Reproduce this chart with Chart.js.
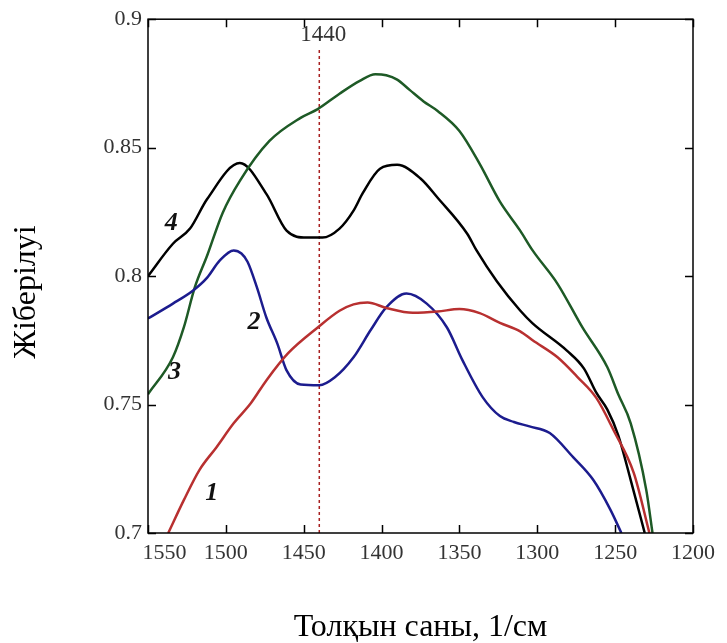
<!DOCTYPE html>
<html><head><meta charset="utf-8">
<script src="https://cdn.jsdelivr.net/npm/chart.js@4/dist/chart.umd.min.js"></script>
<style>html,body{margin:0;padding:0;background:#fff}#wrap{width:727px;height:643px}</style>
</head><body><div id="wrap"><canvas id="c" width="727" height="643"></canvas></div>
<script>
// ---- data (wavenumber, 1/cm ; transmission) ----
const wn1 = [1537,1527,1517,1506,1495,1484,1474,1460,1441,1427,1418,1409,1397,1380,1364,1350,1337,1324,1311,1303,1287,1274,1262,1251,1238,1228];
const tr1 = [0.700,0.7128,0.7245,0.7334,0.7427,0.7505,0.7594,0.770,0.780,0.7865,0.7890,0.7897,0.7876,0.7857,0.7862,0.7872,0.7856,0.7818,0.7785,0.775,0.7684,0.7606,0.7525,0.740,0.7233,0.700];

const wn2 = [1550,1534,1521,1512,1504,1495,1490,1486,1480,1474,1467,1461,1452,1440,1430,1418,1407,1397,1384,1371,1358,1348,1335,1324,1315,1305,1292,1277,1264,1253,1246];
const tr2 = [0.7835,0.7893,0.7944,0.7994,0.806,0.810,0.8088,0.8055,0.7955,0.7839,0.7738,0.7633,0.7578,0.7575,0.7606,0.7684,0.779,0.7878,0.7932,0.7893,0.780,0.7672,0.7528,0.7455,0.7432,0.7415,0.7389,0.7295,0.7206,0.709,0.700];

const wn3 = [1550,1534,1527,1520,1512,1502,1491,1472,1452,1441,1427,1414,1404,1397,1390,1382,1373,1364,1350,1337,1324,1311,1303,1287,1271,1255,1248,1240,1230,1226];
const tr3 = [0.754,0.7684,0.780,0.7955,0.808,0.8247,0.8371,0.8526,0.8616,0.865,0.871,0.876,0.8786,0.8782,0.8765,0.8725,0.868,0.8643,0.8565,0.8437,0.829,0.8177,0.810,0.797,0.780,0.7645,0.754,0.7427,0.7167,0.700];

const wn4 = [1550,1534,1523,1512,1491,1474,1461,1448,1438,1427,1418,1412,1401,1390,1375,1364,1345,1339,1326,1311,1303,1281,1270,1262,1255,1248,1240,1231];
const tr4 = [0.800,0.8126,0.8185,0.830,0.844,0.832,0.8177,0.815,0.815,0.8185,0.8255,0.8324,0.8418,0.8433,0.838,0.8305,0.8165,0.810,0.798,0.7866,0.7816,0.771,0.764,0.7545,0.748,0.738,0.7206,0.700];

const markerWn = 1440;
const markerLabel = '1440';
const xTicks = [1550,1500,1450,1400,1350,1300,1250,1200];
const yTicks = [0.7,0.75,0.8,0.85,0.9];
const curveNames = ['1','2','3','4'];
const curveNameAt = [[1509,0.7156],[1482,0.782],[1533,0.7625],[1535,0.8204]];

const xTitle = 'Толқын саны, 1/см';
const yTitle = 'Жіберілуі';

const colors = ['#b83030','#1c1c8e','#1e5a26','#000000'];
const SERIF = '"Liberation Serif","Times New Roman",serif';

function pts(xs, ys){ return xs.map((x,i)=>({x:x,y:ys[i]})); }

const decor = {
  id:'decor',
  afterDatasetsDraw(chart){
    const {ctx, chartArea:a, scales:{x,y}} = chart;
    ctx.save();
    ctx.strokeStyle = '#000';
    ctx.lineWidth = 1.5;
    ctx.strokeRect(a.left, a.top, a.right-a.left, a.bottom-a.top);
    const L = 8;
    ctx.beginPath();
    xTicks.forEach(v=>{
      const px = Math.round(x.getPixelForValue(v))+0.5;
      ctx.moveTo(px, a.top); ctx.lineTo(px, a.top+L);
      ctx.moveTo(px, a.bottom); ctx.lineTo(px, a.bottom-L);
    });
    yTicks.forEach(v=>{
      const py = Math.round(y.getPixelForValue(v))+0.5;
      ctx.moveTo(a.left, py); ctx.lineTo(a.left+L, py);
      ctx.moveTo(a.right, py); ctx.lineTo(a.right-L, py);
    });
    ctx.stroke();
    // curve numbers
    ctx.font = 'italic bold 26px ' + SERIF;
    ctx.fillStyle = '#111';
    ctx.textAlign = 'center'; ctx.textBaseline = 'middle';
    curveNames.forEach((t,i)=>{
      ctx.fillText(t, x.getPixelForValue(curveNameAt[i][0]), y.getPixelForValue(curveNameAt[i][1]));
    });
    // marker label
    ctx.font = '23px ' + SERIF;
    ctx.fillStyle = '#333';
    ctx.fillText(markerLabel, x.getPixelForValue(markerWn)+4, a.top+16);
    // y title
    ctx.translate(27, 292);
    ctx.rotate(-Math.PI/2);
    ctx.font = '32px ' + SERIF;
    ctx.fillStyle = '#000';
    ctx.fillText(yTitle, 0, 0);
    ctx.restore();
  }
};

const mk = (xs, ys, c) => ({data: pts(xs, ys), borderColor: c, borderWidth: 2.5, pointRadius: 0, cubicInterpolationMode: 'monotone', fill: false});

new Chart(document.getElementById('c'), {
  type: 'line',
  data: {
    datasets: [
      mk(wn1, tr1, colors[0]),
      mk(wn2, tr2, colors[1]),
      mk(wn3, tr3, colors[2]),
      mk(wn4, tr4, colors[3]),
      {data: [{x:markerWn, y:0.7},{x:markerWn, y:0.888}], borderColor:'#a82020', borderWidth:1.5, borderDash:[3,3], pointRadius:0, tension:0}
    ]
  },
  options: {
    responsive: false,
    animation: false,
    layout: {padding: {left: 0, top: 18, right: 34, bottom: 0}},
    plugins: {legend: {display: false}, tooltip: {enabled: false}},
    scales: {
      x: {
        type: 'linear', reverse: true, min: 1200, max: 1550,
        afterBuildTicks: s => { s.ticks = xTicks.map(v => ({value: v})); },
        afterFit: s => { s.height = 110; },
        grid: {display: false, drawTicks: false},
        border: {display: false},
        ticks: {
          padding: 7, color: '#333', maxRotation: 0, autoSkip: false,
          font: {family: SERIF, size: 22},
          callback: v => v === 1550 ? '\u2007\u2007\u20071550' : String(v)
        },
        title: {display: true, text: xTitle, color: '#000', font: {family: SERIF, size: 32}, padding: {top: 0, bottom: -4}}
      },
      y: {
        type: 'linear', min: 0.7, max: 0.9,
        afterBuildTicks: s => { s.ticks = yTicks.map(v => ({value: v})); },
        afterFit: s => { s.width = 148; },
        grid: {display: false, drawTicks: false},
        border: {display: false},
        ticks: {
          padding: 6, color: '#333',
          font: {family: SERIF, size: 22},
          callback: v => String(+v.toFixed(2))
        }
      }
    }
  },
  plugins: [decor]
});
</script>
</body></html>
